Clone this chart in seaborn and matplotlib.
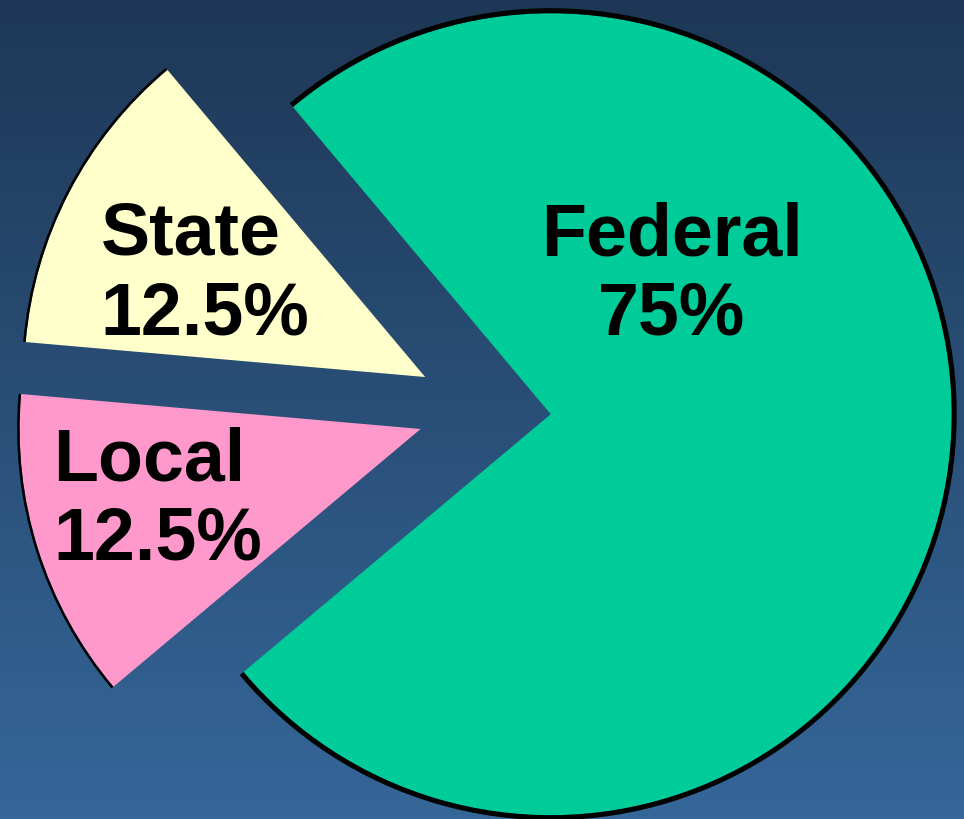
import numpy as np
import seaborn as sns
import matplotlib.pyplot as plt
from matplotlib.colors import LinearSegmentedColormap
from matplotlib.patches import Arc

# data
sources = ["Federal", "State", "Local"]
shares = [75, 12.5, 12.5]
share_labels = ["75%", "12.5%", "12.5%"]
slice_colors = ["#00CC99", "#FFFFCC", "#FF99CC"]
explode = [0.163, 0.17, 0.17]

sns.set_theme(style="white")
plt.rcParams["font.family"] = ["Liberation Sans", "DejaVu Sans"]

fig = plt.figure(figsize=(9.64, 8.2), dpi=100)
ax = fig.add_axes([0, 0, 1, 1])

xlim = (-1.211, 1.193)
ylim = (-1.0237, 1.0212)

# background gradient, dark navy at the top to lighter blue at the bottom
bg = LinearSegmentedColormap.from_list("bg", ["#1E3756", "#356799"])
grad = np.linspace(0, 1, 256).reshape(-1, 1)
ax.imshow(grad, cmap=bg, aspect="auto", extent=(xlim[0], xlim[1], ylim[0], ylim[1]),
          origin="upper", zorder=0)

wedges, _ = ax.pie(shares, colors=slice_colors, explode=explode, startangle=-140,
                   radius=1, wedgeprops=dict(linewidth=0, zorder=2))

# black outline only on the outer arc of each slice
for w, lw in zip(wedges, [3.6, 1.8, 1.8]):
    off = lw / 72 * 100 / 2 / 401
    rr = w.r + off
    ax.add_patch(Arc(w.center, 2 * rr, 2 * rr, theta1=w.theta1, theta2=w.theta2,
                     color="black", lw=lw, zorder=3))

txt = dict(fontsize=53, fontweight="bold", color="black", va="baseline",
           linespacing=1.2, zorder=4)
ax.text(0.4636, 0.1858, f"{sources[0]}\n{share_labels[0]}", ha="center",
        multialignment="center", **txt)
ax.text(-0.960, 0.1858, f"{sources[1]}\n{share_labels[1]}", ha="left",
        multialignment="left", **txt)
ax.text(-1.078, -0.3753, f"{sources[2]}\n{share_labels[2]}", ha="left",
        multialignment="left", **txt)

ax.set_xlim(*xlim)
ax.set_ylim(*ylim)
ax.set_aspect("equal")
ax.axis("off")

fig.savefig("out.png", dpi=100)
